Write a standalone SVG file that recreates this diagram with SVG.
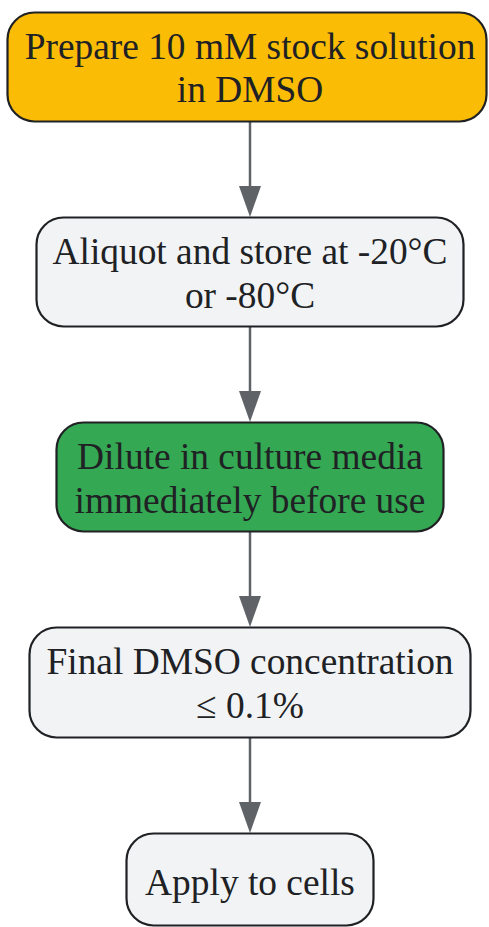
<svg xmlns="http://www.w3.org/2000/svg" width="489" height="927" viewBox="0 0 489 927">
<defs>
<style>
.node rect{stroke:#202124;stroke-width:2.2}
.node text{font-family:"Liberation Serif","Times New Roman",serif;font-size:37.4px;fill:#202124;text-anchor:middle}
.edge{stroke:#5F6368;stroke-width:2.5;fill:none;marker-end:url(#ah)}
</style>
<marker id="ah" viewBox="0 0 31 22" refX="0" refY="11" markerWidth="31" markerHeight="22" markerUnits="userSpaceOnUse" orient="auto">
<path d="M0,0 L31,11 L0,22 Z" fill="#5F6368"/>
</marker>
</defs>
<rect width="489" height="927" fill="#ffffff"/>
<g id="connectors">
<line class="edge" x1="250" y1="122" x2="250" y2="186"/>
<line class="edge" x1="250" y1="327" x2="250" y2="391"/>
<line class="edge" x1="250" y1="532" x2="250" y2="596"/>
<line class="edge" x1="250" y1="738" x2="250" y2="802"/>
</g>
<g id="n1" class="node">
<rect x="7.5" y="12.5" width="479" height="109" rx="27" fill="#FABC05"/>
<text x="250" y="59">Prepare 10 mM stock solution</text>
<text x="250" y="102">in DMSO</text>
</g>
<g id="n2" class="node">
<rect x="36.5" y="217.5" width="427" height="109" rx="27" fill="#F1F3F4"/>
<text x="250" y="264">Aliquot and store at -20°C</text>
<text x="250" y="308">or -80°C</text>
</g>
<g id="n3" class="node">
<rect x="56.5" y="422.5" width="387" height="109" rx="27" fill="#34A853"/>
<text x="250" y="469">Dilute in culture media</text>
<text x="250" y="513">immediately before use</text>
</g>
<g id="n4" class="node">
<rect x="29.5" y="627.5" width="441" height="110" rx="27" fill="#F1F3F4"/>
<text x="250" y="674">Final DMSO concentration</text>
<text x="250" y="718">≤ 0.1%</text>
</g>
<g id="n5" class="node">
<rect x="126.5" y="833.5" width="247" height="92" rx="27" fill="#F1F3F4"/>
<text x="250" y="895">Apply to cells</text>
</g>
</svg>
